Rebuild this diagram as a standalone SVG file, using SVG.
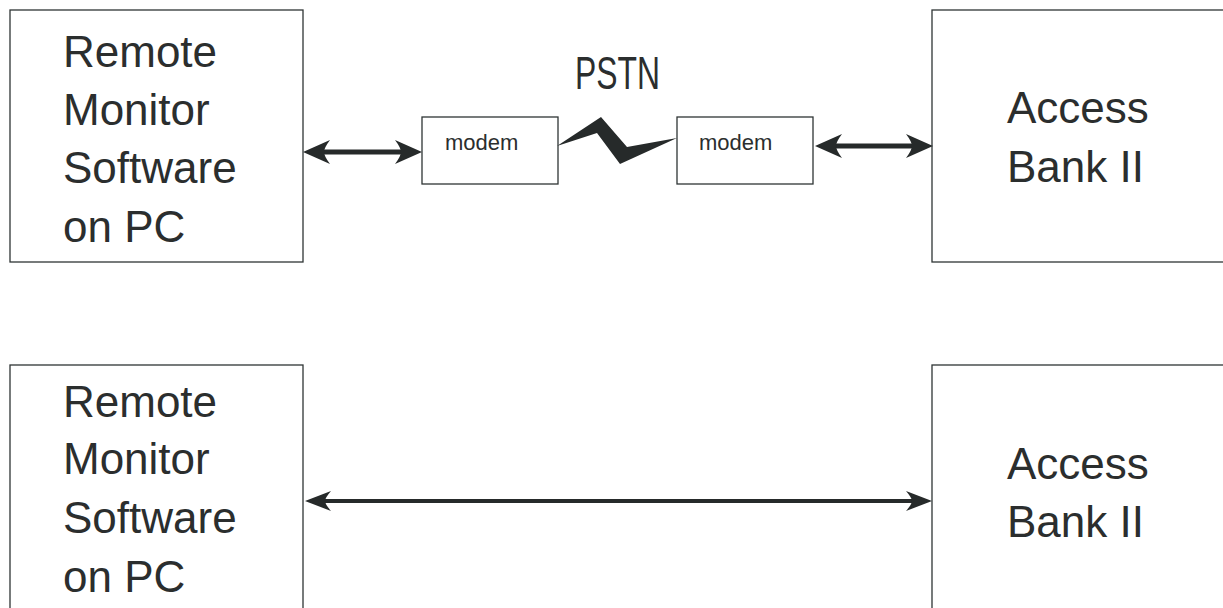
<svg xmlns="http://www.w3.org/2000/svg" xmlns:xlink="http://www.w3.org/1999/xlink" width="1223" height="608" viewBox="0 0 1223 608">
<style>
.box{fill:#fff;stroke:#2f3535;stroke-width:1.3}
.big{font-family:"Liberation Sans",Arial,sans-serif;font-size:44px;fill:#2b2e2e}
.small{font-family:"Liberation Sans",Arial,sans-serif;font-size:22px;fill:#2b2e2e}
.conn{stroke:#262a2a;fill:none}
.head{fill:#262a2a}
</style>
<defs>
<path id="hA" class="head" d="M0,0 L-27,-12 Q-21,-4 -21,0 Q-21,4 -27,12 Z"/>
<path id="hB" class="head" d="M0,0 L-26,-10 Q-20,-3 -20,0 Q-20,3 -26,10 Z"/>
</defs>
<rect width="1223" height="608" fill="#fff"/>
<g id="pc-top">
<rect class="box" x="10" y="10" width="293" height="252"/>
<text class="big" x="63" y="67">Remote</text>
<text class="big" x="63" y="125">Monitor</text>
<text class="big" x="63" y="183">Software</text>
<text class="big" x="63" y="242">on PC</text>
</g>
<g id="bank-top">
<rect class="box" x="932" y="10" width="300" height="252"/>
<text class="big" x="1007" y="123">Access</text>
<text class="big" x="1007" y="182">Bank II</text>
</g>
<g id="modem-left">
<rect class="box" x="422" y="117" width="136" height="67"/>
<text class="small" x="445" y="150">modem</text>
</g>
<g id="modem-right">
<rect class="box" x="677" y="117" width="136" height="67"/>
<text class="small" x="699" y="150">modem</text>
</g>
<g id="pstn">
<text class="big" x="575" y="89" textLength="85" lengthAdjust="spacingAndGlyphs" style="font-size:47px">PSTN</text>
</g>
<g id="pc-bottom">
<rect class="box" x="10" y="365" width="293" height="260"/>
<text class="big" x="63" y="417">Remote</text>
<text class="big" x="63" y="474">Monitor</text>
<text class="big" x="63" y="533">Software</text>
<text class="big" x="63" y="592">on PC</text>
</g>
<g id="bank-bottom">
<rect class="box" x="932" y="365" width="300" height="260"/>
<text class="big" x="1007" y="479">Access</text>
<text class="big" x="1007" y="537">Bank II</text>
</g>
<g id="connectors">
<line class="conn" x1="322" y1="152" x2="403" y2="152" stroke-width="5"/>
<use xlink:href="#hA" transform="translate(303,152) rotate(180)"/>
<use xlink:href="#hA" transform="translate(422,152)"/>
<line class="conn" x1="834" y1="146" x2="914" y2="146" stroke-width="5"/>
<use xlink:href="#hA" transform="translate(815,146) rotate(180)"/>
<use xlink:href="#hA" transform="translate(933,146)"/>
<polygon points="557,146 601,117 627,147 677,138 620,164 597,133" fill="#262a2a"/>
<line class="conn" x1="322" y1="501" x2="915" y2="501" stroke-width="4"/>
<use xlink:href="#hB" transform="translate(305,501) rotate(180)"/>
<use xlink:href="#hB" transform="translate(932,501)"/>
</g>
</svg>
